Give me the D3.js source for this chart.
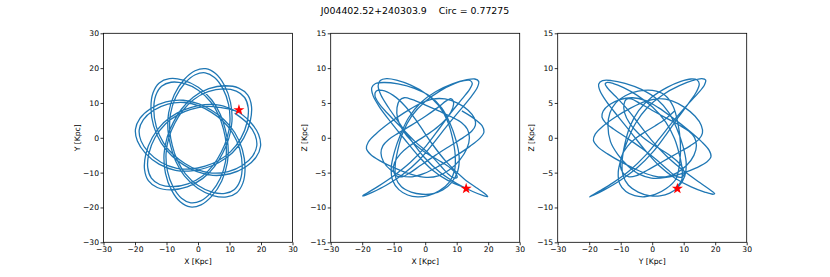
<!DOCTYPE html>
<html>
<head>
<meta charset="utf-8">
<script src="https://cdn.jsdelivr.net/npm/d3@7"></script>
<style>
  body { margin: 0; background: #fff; }
  text { font-family: "DejaVu Sans", sans-serif; }
</style>
</head>
<body>
<script>
var orbitX1 = [12.38, 7.15, 2.06, -2.40, -6.67, -10.93, -14.50, -16.58, -16.97, -15.76, -12.94, -8.63, -3.42,
  1.53, 5.28, 7.83, 9.74, 10.78, 10.32, 8.36, 5.57, 2.44, -0.94, -4.46, -7.54, -9.32, -9.52, -8.67, -7.10,
  -4.31, -0.09, 4.75, 9.10, 12.31, 14.27, 14.94, 14.09, 11.65, 8.19, 4.43, 0.31, -4.68, -10.19, -15.09,
  -18.44, -19.85, -19.24, -16.66, -12.38, -7.15, -2.06, 2.40, 6.67, 10.93, 14.50, 16.58, 16.97, 15.76,
  12.94, 8.63, 3.42, -1.53, -5.28, -7.83, -9.74, -10.78, -10.32, -8.36, -5.57, -2.44, 0.94, 4.46, 7.54,
  9.32, 9.52, 8.67, 7.10, 4.31, 0.09, -4.75, -9.10, -12.31, -14.27, -14.94, -14.09, -11.65, -8.19, -4.43,
  -0.31, 4.68, 10.19, 15.09, 18.44, 19.85, 19.24, 16.66, 12.38];
var orbitY1 = [7.54, 9.32, 9.52, 8.67, 7.10, 4.31, 0.09, -4.75, -9.10, -12.31, -14.27, -14.94, -14.09,
  -11.65, -8.19, -4.43, -0.31, 4.68, 10.19, 15.09, 18.44, 19.85, 19.24, 16.66, 12.38, 7.15, 2.06, -2.40,
  -6.67, -10.93, -14.50, -16.58, -16.97, -15.76, -12.94, -8.63, -3.42, 1.53, 5.28, 7.83, 9.74, 10.78,
  10.32, 8.36, 5.57, 2.44, -0.94, -4.46, -7.54, -9.32, -9.52, -8.67, -7.10, -4.31, -0.09, 4.75, 9.10,
  12.31, 14.27, 14.94, 14.09, 11.65, 8.19, 4.43, 0.31, -4.68, -10.19, -15.09, -18.44, -19.85, -19.24,
  -16.66, -12.38, -7.15, -2.06, 2.40, 6.67, 10.93, 14.50, 16.58, 16.97, 15.76, 12.94, 8.63, 3.42, -1.53,
  -5.28, -7.83, -9.74, -10.78, -10.32, -8.36, -5.57, -2.44, 0.94, 4.46, 7.54];
var orbitZ1 = [-7.12, -6.12, -4.55, -2.49, -0.14, 2.26, 4.41, 6.09, 7.20, 7.79, 7.94, 7.73, 7.10, 5.96,
  4.25, 2.11, -0.29, -2.69, -4.81, -6.43, -7.49, -8.02, -8.10, -7.79, -7.04, -5.76, -3.94, -1.71, 0.72,
  3.11, 5.18, 6.74, 7.73, 8.20, 8.22, 7.81, 6.94, 5.54, 3.61, 1.30, -1.15, -3.52, -5.52, -7.01, -7.93,
  -8.34, -8.29, -7.79, -6.81, -5.28, -3.25, -0.89, 1.58, 3.90, 5.84, 7.24, 8.10, 8.44, 8.31, 7.73, 6.64,
  5.00, 2.88, 0.47, -1.99, -4.27, -6.12, -7.44, -8.21, -8.49, -8.30, -7.62, -6.43, -4.69, -2.49, -0.05,
  2.39, 4.61, 6.37, 7.59, 8.29, 8.50, 8.23, 7.48, 6.19, 4.35, 2.09, -0.37, -2.79, -4.93, -6.59, -7.71,
  -8.31, -8.46, -8.13, -7.29, -5.91];

var orbitX2 = [6.72, 1.94, -2.26, -6.27, -10.27, -13.63, -15.59, -15.95, -14.81, -12.16, -8.11, -3.21,
  1.44, 4.96, 7.36, 9.16, 10.13, 9.70, 7.86, 5.24, 2.29, -0.88, -4.19, -7.09, -8.76, -8.95, -8.15, -6.67,
  -4.05, -0.08, 4.47, 8.55, 11.57, 13.41, 14.04, 13.24, 10.95, 7.70, 4.16, 0.29, -4.40, -9.58, -14.18,
  -17.33, -18.66, -18.09, -15.66, -11.64, -6.72, -1.94, 2.26, 6.27, 10.27, 13.63, 15.59, 15.95, 14.81,
  12.16, 8.11, 3.21, -1.44, -4.96, -7.36, -9.16, -10.13, -9.70, -7.86, -5.24, -2.29, 0.88, 4.19, 7.09,
  8.76, 8.95, 8.15, 6.67, 4.05, 0.08, -4.47, -8.55, -11.57, -13.41, -14.04, -13.24, -10.95, -7.70, -4.16,
  -0.29, 4.40, 9.58, 14.18, 17.33, 18.66, 18.09, 15.66, 11.64];
var orbitY2 = [8.76, 8.95, 8.15, 6.67, 4.05, 0.08, -4.47, -8.55, -11.57, -13.41, -14.04, -13.24, -10.95,
  -7.70, -4.16, -0.29, 4.40, 9.58, 14.18, 17.33, 18.66, 18.09, 15.66, 11.64, 6.72, 1.94, -2.26, -6.27,
  -10.27, -13.63, -15.59, -15.95, -14.81, -12.16, -8.11, -3.21, 1.44, 4.96, 7.36, 9.16, 10.13, 9.70, 7.86,
  5.24, 2.29, -0.88, -4.19, -7.09, -8.76, -8.95, -8.15, -6.67, -4.05, -0.08, 4.47, 8.55, 11.57, 13.41,
  14.04, 13.24, 10.95, 7.70, 4.16, 0.29, -4.40, -9.58, -14.18, -17.33, -18.66, -18.09, -15.66, -11.64,
  -6.72, -1.94, 2.26, 6.27, 10.27, 13.63, 15.59, 15.95, 14.81, 12.16, 8.11, 3.21, -1.44, -4.96, -7.36,
  -9.16, -10.13, -9.70, -7.86, -5.24, -2.29, 0.88, 4.19, 7.09];
var orbitZ2 = [-3.46, -0.71, 2.10, 4.50, 6.12, 6.80, 6.69, 6.04, 5.01, 3.59, 1.71, -0.55, -2.38, -4.04,
  -5.22, -5.78, -5.69, -5.10, -4.29, -3.49, -2.72, -1.81, -0.55, 1.05, 2.79, 4.33, 5.36, 5.75, 5.48, 4.74,
  3.82, 2.95, 2.15, 1.23, 0.00, -1.55, -3.20, -4.60, -5.47, -5.68, -5.24, -4.36, -3.34, -2.40, -1.56,
  -0.64, 0.55, 2.04, 3.58, 4.84, 5.55, 5.58, 4.98, 3.96, 2.83, 1.83, 0.97, 0.06, -1.10, -2.52, -3.95,
  -5.06, -5.60, -5.45, -4.69, -3.53, -2.31, -1.26, -0.37, 0.53, 1.65, 2.98, 4.29, 5.26, 5.62, 5.30, 4.37,
  3.09, 1.78, 0.67, -0.23, -1.12, -2.18, -3.43, -4.62, -5.42, -5.60, -5.11, -4.03, -2.63, -1.23, -0.08,
  0.83, 1.70, 2.71, 3.86];

// current position of the star
var starX = 13, starY = 8, starZ = -7.3;

var titleText = "J004402.52+240303.9    Circ = 0.77275";
var xyTicks = [-30, -20, -10, 0, 10, 20, 30];
var zTicks = [-15, -10, -5, 0, 5, 10, 15];

var orbitX = orbitX1.concat(orbitX2);
var orbitY = orbitY1.concat(orbitY2);
var orbitZ = orbitZ1.concat(orbitZ2);

var width = 830, height = 277;
var plotTop = 33.3, plotBottom = 242.3;

var panels = [
  { left: 103.5, h: orbitX, v: orbitY, hs: starX, vs: starY, vDom: [-30, 30], vTicks: xyTicks, xl: "X [Kpc]", yl: "Y [Kpc]" },
  { left: 330.7, h: orbitX, v: orbitZ, hs: starX, vs: starZ, vDom: [-15, 15], vTicks: zTicks, xl: "X [Kpc]", yl: "Z [Kpc]" },
  { left: 557.7, h: orbitY, v: orbitZ, hs: starY, vs: starZ, vDom: [-15, 15], vTicks: zTicks, xl: "Y [Kpc]", yl: "Z [Kpc]" }
];
var pw = 189;

var svg = d3.select("body").append("svg")
  .attr("width", width)
  .attr("height", height);

svg.append("text")
  .attr("x", 415)
  .attr("y", 14)
  .attr("text-anchor", "middle")
  .style("font-size", "9.4px")
  .style("white-space", "pre")
  .text(titleText);

panels.forEach(function (p) {
  var x = d3.scaleLinear().domain([-30, 30]).range([p.left, p.left + pw]);
  var y = d3.scaleLinear().domain(p.vDom).range([plotBottom, plotTop]);

  var g = svg.append("g");

  var pts = p.h.map(function (d, i) { return [d, p.v[i]]; });
  var line = d3.line()
    .x(function (d) { return x(d[0]); })
    .y(function (d) { return y(d[1]); })
    .curve(d3.curveCatmullRom);

  g.append("path")
    .attr("d", line(pts))
    .attr("fill", "none")
    .attr("stroke", "#1f77b4")
    .attr("stroke-width", 1.3);

  g.append("path")
    .attr("d", d3.symbol().type(d3.symbolStar).size(38)())
    .attr("transform", "translate(" + x(p.hs) + "," + y(p.vs) + ")")
    .attr("fill", "red");

  var fmt = function (d) { return d < 0 ? "\u2212" + Math.abs(d) : d; };
  var xAxis = d3.axisBottom(x).tickValues(xyTicks).tickSize(3).tickPadding(1.5).tickFormat(fmt);
  var yAxis = d3.axisLeft(y).tickValues(p.vTicks).tickSize(3).tickPadding(1.5).tickFormat(fmt);

  var gx = g.append("g").attr("transform", "translate(0," + plotBottom + ")").call(xAxis);
  var gy = g.append("g").attr("transform", "translate(" + p.left + ",0)").call(yAxis);
  [gx, gy].forEach(function (a) {
    a.select(".domain").remove();
    a.selectAll("text").style("font-size", "7.6px").style("font-family", "DejaVu Sans").attr("fill", "#000");
    a.selectAll("line").attr("stroke", "#000").attr("stroke-width", 0.8);
  });

  g.append("rect")
    .attr("x", p.left)
    .attr("y", plotTop)
    .attr("width", pw)
    .attr("height", plotBottom - plotTop)
    .attr("fill", "none")
    .attr("stroke", "#000")
    .attr("stroke-width", 0.8);

  g.append("text")
    .attr("x", p.left + pw / 2)
    .attr("y", 264)
    .attr("text-anchor", "middle")
    .style("font-size", "7.6px")
    .text(p.xl);

  g.append("text")
    .attr("transform", "translate(" + (p.left - 24) + "," + ((plotTop + plotBottom) / 2) + ") rotate(-90)")
    .attr("text-anchor", "middle")
    .style("font-size", "7.6px")
    .text(p.yl);
});
</script>
</body>
</html>
